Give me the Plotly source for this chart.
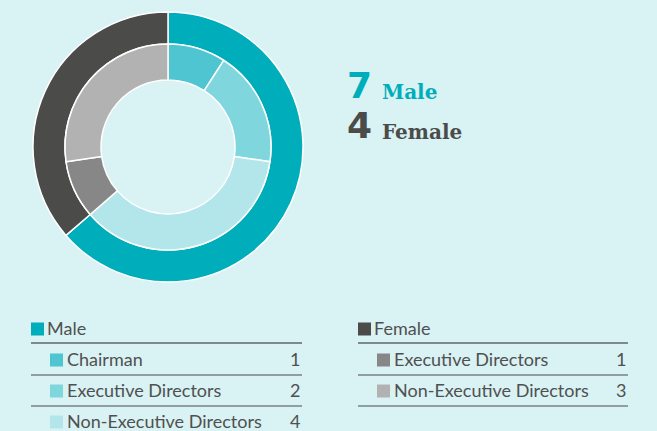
import plotly.graph_objects as go

# Board composition by gender and role
genders = ["Male", "Female"]
gender_counts = [7, 4]
gender_colors = ["#00AEBB", "#4B4B4A"]

roles = ["Chairman", "Executive Directors", "Non-Executive Directors",
         "Executive Directors", "Non-Executive Directors"]
role_gender = ["Male", "Male", "Male", "Female", "Female"]
role_counts = [1, 2, 4, 1, 3]
role_colors = ["#4EC5D0", "#80D6DD", "#B3E6EA", "#878787", "#B2B2B2"]

W, H = 657, 431
BG = "#D9F2F4"
TEXT = "#505050"


def px(x):
    return x / W


def py(y):
    return 1 - y / H


cx, cy = 168, 147
r_out, r_mid, r_in = 135, 103, 67

fig = go.Figure()

# outer ring: gender totals
fig.add_trace(go.Pie(
    labels=genders, values=gender_counts, sort=False, direction="clockwise",
    rotation=0, hole=r_mid / r_out, textinfo="none", hoverinfo="label+value",
    marker=dict(colors=gender_colors, line=dict(color="white", width=1.5)),
    domain=dict(x=[px(cx - r_out), px(cx + r_out)], y=[py(cy + r_out), py(cy - r_out)]),
    showlegend=False,
))

# inner ring: roles within each gender
fig.add_trace(go.Pie(
    labels=[f"{g} – {r}" for g, r in zip(role_gender, roles)], values=role_counts,
    sort=False, direction="clockwise", rotation=0, hole=r_in / r_mid,
    textinfo="none", hoverinfo="label+value",
    marker=dict(colors=role_colors, line=dict(color="white", width=1.5)),
    domain=dict(x=[px(cx - r_mid), px(cx + r_mid)], y=[py(cy + r_mid), py(cy - r_mid)]),
    showlegend=False,
))

annotations = []
shapes = []

# headline totals, one annotation per gender
for i, (g, n, c) in enumerate(zip(genders, gender_counts, gender_colors)):
    base_y = 101 + i * 40
    annotations.append(dict(
        x=px(346), y=py(base_y + 6), xref="paper", yref="paper", xanchor="left", yanchor="bottom",
        text=f"<b>{n}</b>", showarrow=False, borderpad=0,
        font=dict(family="DejaVu Sans", size=36, color=c)))
    annotations.append(dict(
        x=px(381), y=py(base_y + 4), xref="paper", yref="paper", xanchor="left", yanchor="bottom",
        text=f"<b>{g}</b>", showarrow=False, borderpad=0,
        font=dict(family="DejaVu Serif", size=20, color=c)))

# breakdown tables
cols = {"Male": (31, 302), "Female": (358, 628)}
row_h = 31
head_y = 329
FS = 18
for g, c in zip(genders, gender_colors):
    x0, x1 = cols[g]
    shapes.append(dict(type="rect", xref="paper", yref="paper",
                       x0=px(x0), x1=px(x0 + 13), y0=py(head_y + 6.5), y1=py(head_y - 6.5),
                       fillcolor=c, line=dict(width=0)))
    annotations.append(dict(
        x=px(x0 + 14), y=py(head_y - 1), xref="paper", yref="paper", xanchor="left", yanchor="middle",
        text=g, showarrow=False, font=dict(family="Lato", size=FS, color=TEXT)))
    shapes.append(dict(type="line", xref="paper", yref="paper",
                       x0=px(x0), x1=px(x1), y0=py(head_y + 14), y1=py(head_y + 14),
                       line=dict(color="#222222", width=1.2)))
    k = 0
    for r, rg, n, rc in zip(roles, role_gender, role_counts, role_colors):
        if rg != g:
            continue
        k += 1
        ry = head_y + k * row_h
        shapes.append(dict(type="rect", xref="paper", yref="paper",
                           x0=px(x0 + 19), x1=px(x0 + 32), y0=py(ry + 6.5), y1=py(ry - 6.5),
                           fillcolor=rc, line=dict(width=0)))
        annotations.append(dict(
            x=px(x0 + 34), y=py(ry - 1), xref="paper", yref="paper", xanchor="left", yanchor="middle",
            text=r, showarrow=False, font=dict(family="Lato", size=FS, color=TEXT)))
        annotations.append(dict(
            x=px(x1), y=py(ry - 1), xref="paper", yref="paper", xanchor="right", yanchor="middle",
            text=str(n), showarrow=False, font=dict(family="Lato", size=FS, color=TEXT)))
        shapes.append(dict(type="line", xref="paper", yref="paper",
                           x0=px(x0), x1=px(x1), y0=py(ry + 15), y1=py(ry + 15),
                           line=dict(color="#4A4A4A", width=1.2)))

fig.update_layout(
    width=W, height=H, margin=dict(l=0, r=0, t=0, b=0),
    paper_bgcolor=BG, plot_bgcolor=BG,
    annotations=annotations, shapes=shapes,
)

fig.write_html("out.html")
